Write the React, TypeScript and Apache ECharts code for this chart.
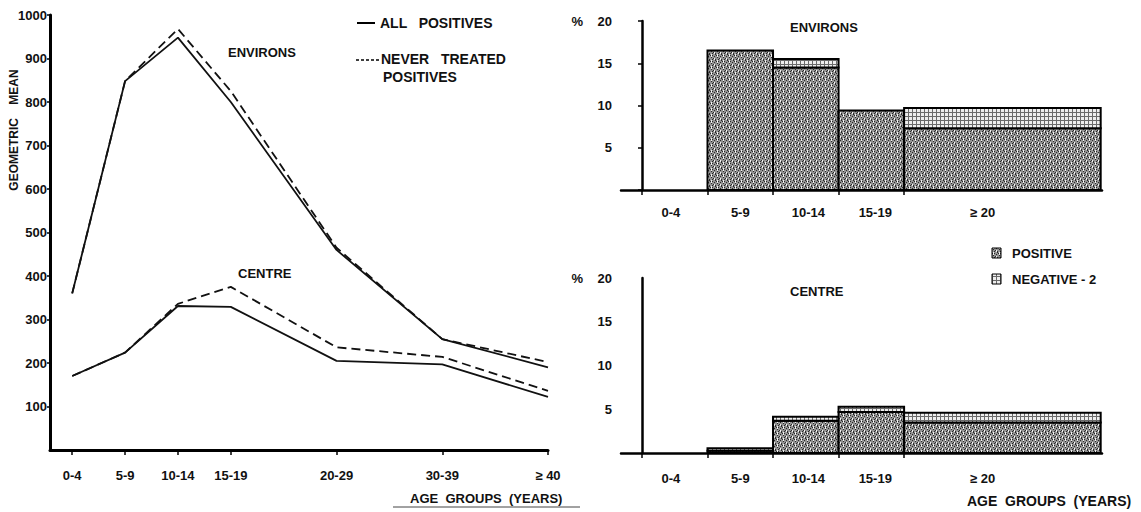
import React, { useEffect, useRef } from "react";
import * as echarts from "echarts";

// ---- Left panel: geometric mean by age group ----
const lineAgeLabels = ["0-4", "5-9", "10-14", "15-19", "20-29", "30-39", "≥ 40"];
const lineAgeMid = [2.5, 7.5, 12.5, 17.5, 27.5, 37.5, 47.5];
const environsAll = [360, 848, 948, 800, 460, 255, 190];
const environsNever = [360, 848, 968, 825, 465, 255, 202];
const centreAll = [170, 224, 331, 329, 205, 197, 122];
const centreNever = [170, 224, 336, 375, 236, 214, 136];
const meanTicks = [100, 200, 300, 400, 500, 600, 700, 800, 900, 1000];

// ---- Right panels: % by age group (variable-width bins) ----
const barLabels = ["0-4", "5-9", "10-14", "15-19", "≥ 20"];
const barLabelPos = [2.2, 7.5, 12.7, 17.8, 26];
const barStart = [0, 5, 10, 15, 20];
const barEnd = [5, 10, 15, 20, 35];
const environsPositive = [0, 16.5, 14.5, 9.4, 7.3];
const environsNegative = [0, 0, 1.0, 0, 2.4];
const centrePositive = [0, 0.25, 3.7, 4.7, 3.5];
const centreNegative = [0, 0.3, 0.45, 0.6, 1.1];

const FONT = "Liberation Sans";

function makePattern(kind: "pos" | "neg"): any {
  const c = document.createElement("canvas");
  const size = kind === "pos" ? 6 : 4;
  c.width = size;
  c.height = size;
  const ctx = c.getContext("2d");
  if (!ctx) return kind === "pos" ? "#9a9a9a" : "#cdcdcd";
  if (kind === "pos") {
    ctx.fillStyle = "#939393";
    ctx.fillRect(0, 0, 6, 6);
    ctx.fillStyle = "#2a2a2a";
    const dots = [[1, 0], [4, 1], [0, 2], [3, 3], [5, 4], [1, 5], [4, 5], [2, 1]];
    dots.forEach(([x, y]) => ctx.fillRect(x, y, 1, 1));
    ctx.fillStyle = "#f2f2f2";
    [[3, 0], [3, 1], [3, 2], [0, 4], [0, 5]].forEach(([x, y]) => ctx.fillRect(x, y, 1, 1));
  } else {
    ctx.fillStyle = "#eeeeee";
    ctx.fillRect(0, 0, 4, 4);
    ctx.fillStyle = "#6a6a6a";
    ctx.fillRect(0, 0, 1, 4);
    ctx.fillRect(0, 0, 4, 1);
  }
  return { image: c.toDataURL(), repeat: "repeat", imageWidth: size, imageHeight: size };
}

const zip = (xs: number[], ys: number[]) => xs.map((x, i) => [x, ys[i]]);

function barData(pos: number[], neg: number[]) {
  return barStart.map((s, i) => [s, barEnd[i], pos[i], neg[i]]);
}

const txt = (x: number, y: number, text: string, extra: any = {}, rot = 0) => ({
  type: "text",
  x,
  y,
  rotation: rot,
  style: {
    text,
    fill: "#111",
    font: `bold 13px "${FONT}"`,
    verticalAlign: "middle",
    ...extra,
  },
});

export default function App() {
  const ref = useRef<HTMLDivElement>(null);
  useEffect(() => {
    if (!ref.current) return;
    const POS = makePattern("pos");
    const NEG = makePattern("neg");
    const renderBins = (_params: any, api: any) => {
      const s = api.value(0);
      const e = api.value(1);
      const p = api.value(2);
      const n = api.value(3);
      const base = api.coord([s, 0]);
      const xe = api.coord([e, 0])[0];
      const w = xe - base[0];
      const children: any[] = [];
      if (p > 0) {
        const top = api.coord([s, p])[1];
        children.push({
          type: "rect",
          shape: { x: base[0], y: top, width: w, height: base[1] - top },
          style: { fill: POS, stroke: "#000", lineWidth: 2 },
        });
      }
      if (n > 0) {
        const topP = api.coord([s, p])[1];
        const topN = api.coord([s, p + n])[1];
        children.push({
          type: "rect",
          shape: { x: base[0], y: topN, width: w, height: topP - topN },
          style: { fill: NEG, stroke: "#000", lineWidth: 2 },
        });
      }
      return { type: "group", children };
    };

    const chart = echarts.init(ref.current, undefined, { renderer: "svg" });
    const axisLabelStyle = {
      color: "#111",
      fontFamily: FONT,
      fontWeight: "bold" as const,
      fontSize: 13,
    };
    const lineSeries = (data: number[], dashed: boolean) => ({
      type: "line",
      xAxisIndex: 0,
      yAxisIndex: 0,
      data: zip(lineAgeMid, data),
      symbol: "none",
      lineStyle: { color: "#111", width: 1.8, type: dashed ? [9, 5] : "solid" },
    });
    const binXAxis = (gridIndex: number, margin: number) => ({
      type: "value",
      gridIndex,
      min: -1.6,
      max: 35.1,
      axisLine: { show: true, lineStyle: { color: "#000", width: 2.5 } },
      axisTick: {
        show: true,
        customValues: barStart,
        length: 5,
        inside: false,
        lineStyle: { color: "#000", width: 1.5 },
      },
      axisLabel: {
        ...axisLabelStyle,
        customValues: barLabelPos,
        margin,
        formatter: (v: number) => {
          const i = barLabelPos.findIndex((p) => Math.abs(p - v) < 1e-6);
          return i >= 0 ? barLabels[i] : "";
        },
      },
      splitLine: { show: false },
    });
    const binYAxis = (gridIndex: number, ticks: boolean) => ({
      type: "value",
      gridIndex,
      min: 0,
      max: 20,
      interval: 5,
      axisLine: { show: true, lineStyle: { color: "#000", width: 2.5 } },
      axisTick: { show: ticks, length: 4, lineStyle: { color: "#000", width: 1.5 } },
      axisLabel: {
        ...axisLabelStyle,
        margin: 9,
        formatter: (v: number) => (v === 0 ? "" : v === 20 ? "%    20" : String(v)),
      },
      splitLine: { show: false },
    });

    chart.setOption({
      animation: false,
      backgroundColor: "#fff",
      grid: [
        { left: 50, right: 593, top: 15, bottom: 62 },
        { left: 621, right: 39, top: 21, bottom: 322 },
        { left: 621, right: 39, top: 278, bottom: 59 },
      ],
      xAxis: [
        {
          type: "value",
          gridIndex: 0,
          min: 0.4,
          max: 47.5,
          axisLine: { show: true, lineStyle: { color: "#000", width: 3 } },
          axisTick: {
            show: true,
            customValues: lineAgeMid,
            length: 5,
            lineStyle: { color: "#000", width: 1.5 },
          },
          axisLabel: {
            ...axisLabelStyle,
            customValues: lineAgeMid,
            margin: 19,
            formatter: (v: number) => {
              const i = lineAgeMid.findIndex((p) => Math.abs(p - v) < 1e-6);
              return i >= 0 ? lineAgeLabels[i] : "";
            },
          },
          splitLine: { show: false },
        },
        binXAxis(1, 16),
        binXAxis(2, 19),
      ],
      yAxis: [
        {
          type: "value",
          gridIndex: 0,
          min: 0,
          max: 1000,
          interval: 100,
          axisLine: { show: true, lineStyle: { color: "#000", width: 3 } },
          axisTick: {
            show: true,
            customValues: meanTicks,
            length: 3,
            lineStyle: { color: "#000", width: 1.5 },
          },
          axisLabel: {
            ...axisLabelStyle,
            margin: 3,
            formatter: (v: number) => (v === 0 ? "" : String(v)),
          },
          splitLine: { show: false },
        },
        binYAxis(1, true),
        binYAxis(2, false),
      ],
      series: [
        lineSeries(environsAll, false),
        lineSeries(environsNever, true),
        lineSeries(centreAll, false),
        lineSeries(centreNever, true),
        {
          type: "custom",
          xAxisIndex: 1,
          yAxisIndex: 1,
          renderItem: renderBins,
          encode: { x: [0, 1], y: [2] },
          data: barData(environsPositive, environsNegative),
        },
        {
          type: "custom",
          xAxisIndex: 2,
          yAxisIndex: 2,
          renderItem: renderBins,
          encode: { x: [0, 1], y: [2] },
          data: barData(centrePositive, centreNegative),
        },
      ],
      graphic: [
        txt(14, 130, "GEOMETRIC    MEAN", { align: "center", font: `bold 12px "${FONT}"` }, Math.PI / 2),
        txt(228, 52, "ENVIRONS"),
        txt(238, 273, "CENTRE"),
        {
          type: "line",
          shape: { x1: 357, y1: 23, x2: 375, y2: 23 },
          style: { stroke: "#000", lineWidth: 2 },
        },
        txt(380, 23, "ALL   POSITIVES", { font: `bold 14px "${FONT}"` }),
        {
          type: "line",
          shape: { x1: 356, y1: 60, x2: 380, y2: 60 },
          style: { stroke: "#000", lineWidth: 1.5, lineDash: [3, 2] },
        },
        txt(381, 59, "NEVER   TREATED", { font: `bold 14px "${FONT}"` }),
        txt(383, 77, "POSITIVES", { font: `bold 14px "${FONT}"` }),
        txt(410, 498, "AGE  GROUPS  (YEARS)"),
        {
          type: "line",
          shape: { x1: 393, y1: 507, x2: 580, y2: 507 },
          style: { stroke: "#444", lineWidth: 1 },
        },
        txt(790, 27, "ENVIRONS"),
        txt(790, 291, "CENTRE"),
        {
          type: "rect",
          shape: { x: 992, y: 248, width: 9, height: 10 },
          style: { fill: POS, stroke: "#000", lineWidth: 1 },
        },
        txt(1012, 253, "POSITIVE"),
        {
          type: "rect",
          shape: { x: 992, y: 274, width: 9, height: 10 },
          style: { fill: NEG, stroke: "#000", lineWidth: 1 },
        },
        txt(1012, 279, "NEGATIVE - 2"),
        txt(967, 501, "AGE  GROUPS  (YEARS)", { font: `bold 14px "${FONT}"` }),
      ],
    });
    return () => chart.dispose();
  }, []);
  return (
    <div
      ref={ref}
      style={{ position: "absolute", left: 0, top: 0, width: 1141, height: 512 }}
    />
  );
}
